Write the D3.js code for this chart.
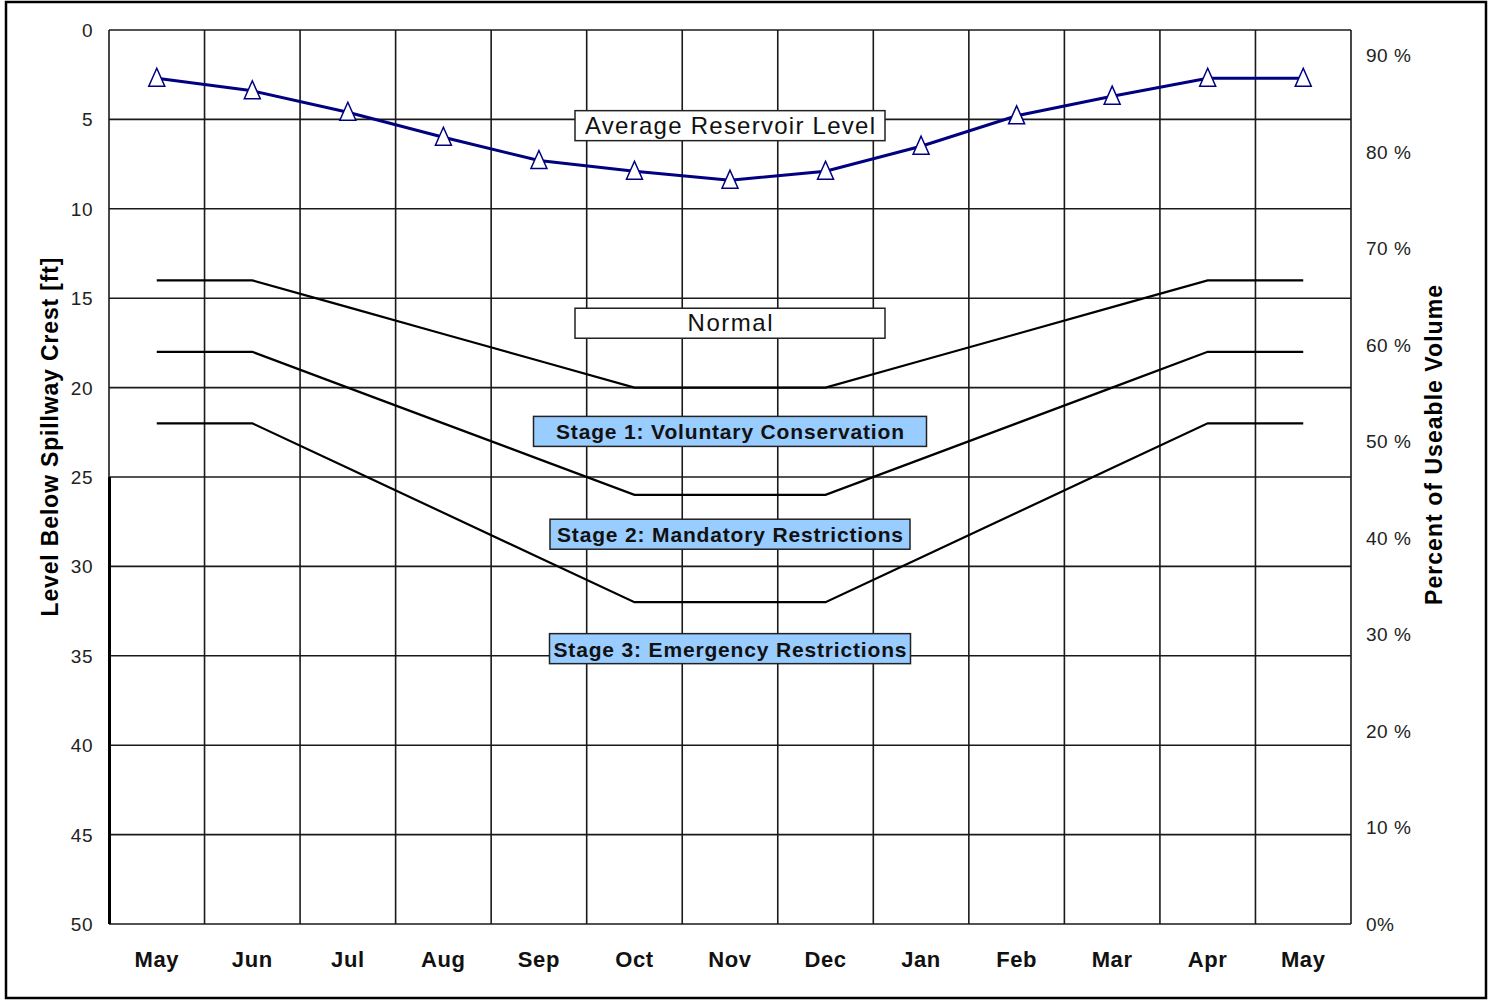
<!DOCTYPE html>
<html>
<head>
<meta charset="utf-8">
<script src="https://cdn.jsdelivr.net/npm/d3@7"></script>
<style>
  body { margin: 0; background: #fff; }
  text { font-family: "Liberation Sans", Arial, sans-serif; }
</style>
</head>
<body>
<svg id="chart" width="1494" height="1000"></svg>
<script>
const svg = d3.select("#chart");

// Data
const months = ["May", "Jun", "Jul", "Aug", "Sep", "Oct", "Nov", "Dec", "Jan", "Feb", "Mar", "Apr", "May"];
const avgLevel = [2.7, 3.4, 4.6, 6.0, 7.3, 7.9, 8.4, 7.9, 6.5, 4.8, 3.7, 2.7, 2.7];
const normalLine = [14, 14, 15.5, 17, 18.5, 20, 20, 20, 18.5, 17, 15.5, 14, 14];
const stage1Line = [18, 18, 20, 22, 24, 26, 26, 26, 24, 22, 20, 18, 18];
const stage2Line = [22, 22, 24.5, 27, 29.5, 32, 32, 32, 29.5, 27, 24.5, 22, 22];
const leftTicks = [0, 5, 10, 15, 20, 25, 30, 35, 40, 45, 50];
const rightTicks = [0, 10, 20, 30, 40, 50, 60, 70, 80, 90];
const labels = [
  { text: "Average Reservoir Level", level: 5.35, w: 310, tw: 290, fill: "#fff", weight: "normal" },
  { text: "Normal", level: 16.4, w: 310, tw: 85, fill: "#fff", weight: "normal" },
  { text: "Stage 1: Voluntary Conservation", level: 22.45, w: 393, tw: 348, fill: "#99ccff", weight: "bold" },
  { text: "Stage 2: Mandatory Restrictions", level: 28.2, w: 360, tw: 346, fill: "#99ccff", weight: "bold" },
  { text: "Stage 3: Emergency Restrictions", level: 34.6, w: 361, tw: 353, fill: "#99ccff", weight: "bold" }
];

const plotL = 109, plotR = 1351, plotT = 30, plotB = 924;

const x = d3.scaleBand().domain(d3.range(months.length)).range([plotL, plotR]).padding(0);
const cx = i => x(i) + x.bandwidth() / 2;
const y = d3.scaleLinear().domain([0, 50]).range([plotT, plotB]);
const yR = d3.scaleLinear().domain([0, 92.6]).range([plotB, plotT]);

// outer frame
svg.append("rect")
  .attr("x", 6).attr("y", 2).attr("width", 1480).attr("height", 996)
  .attr("fill", "none").attr("stroke", "#000").attr("stroke-width", 2.5);

// grid
const grid = svg.append("g").attr("stroke", "#1a1a1a").attr("stroke-width", 1.6);
grid.selectAll(".h").data(leftTicks).enter().append("line")
  .attr("x1", plotL).attr("x2", plotR)
  .attr("y1", d => y(d)).attr("y2", d => y(d));
grid.selectAll(".v").data(d3.range(months.length + 1)).enter().append("line")
  .attr("x1", d => plotL + d * x.bandwidth()).attr("x2", d => plotL + d * x.bandwidth())
  .attr("y1", plotT).attr("y2", plotB);

// thicker axis segment on the lower left
svg.append("line")
  .attr("x1", plotL + 0.5).attr("x2", plotL + 0.5)
  .attr("y1", y(25)).attr("y2", y(50))
  .attr("stroke", "#000").attr("stroke-width", 3);

// left ticks
svg.append("g").selectAll("text").data(leftTicks).enter().append("text")
  .attr("x", 93).attr("y", d => y(d) + 7)
  .attr("text-anchor", "end")
  .attr("font-size", 19).attr("letter-spacing", 0.5).attr("fill", "#222")
  .text(d => d);

// right ticks
svg.append("g").selectAll("text").data(rightTicks).enter().append("text")
  .attr("x", 1366).attr("y", d => yR(d) + 7)
  .attr("font-size", 19).attr("letter-spacing", 0.5).attr("fill", "#222")
  .text(d => d === 0 ? "0%" : d + " %");

// month labels
svg.append("g").selectAll("text").data(months).enter().append("text")
  .attr("x", (d, i) => cx(i)).attr("y", 967)
  .attr("text-anchor", "middle")
  .attr("font-size", 22).attr("font-weight", "bold").attr("letter-spacing", 0.6).attr("fill", "#111")
  .text(d => d);

// axis titles
svg.append("text")
  .attr("transform", "translate(58,437) rotate(-90)")
  .attr("text-anchor", "middle")
  .attr("font-size", 23).attr("font-weight", "bold")
  .attr("textLength", 359).attr("lengthAdjust", "spacing")
  .text("Level Below Spillway Crest [ft]");
svg.append("text")
  .attr("transform", "translate(1442,445) rotate(-90)")
  .attr("text-anchor", "middle")
  .attr("font-size", 23).attr("font-weight", "bold")
  .attr("textLength", 320).attr("lengthAdjust", "spacing")
  .text("Percent of Useable Volume");

// stage lines
const line = d3.line().x((d, i) => cx(i)).y(d => y(d));
[normalLine, stage1Line, stage2Line].forEach(s => {
  svg.append("path").datum(s)
    .attr("d", line)
    .attr("fill", "none").attr("stroke", "#000").attr("stroke-width", 2.2);
});

// average level
svg.append("path").datum(avgLevel)
  .attr("d", line)
  .attr("fill", "none").attr("stroke", "#000080").attr("stroke-width", 3);
svg.append("g").selectAll("path").data(avgLevel).enter().append("path")
  .attr("d", (d, i) => {
    const px = cx(i), py = y(d);
    return `M${px},${py - 10}L${px + 8},${py + 8}L${px - 8},${py + 8}Z`;
  })
  .attr("fill", "#fff").attr("stroke", "#000080").attr("stroke-width", 1.5);

// label boxes
const mid = cx(6);
const lab = svg.append("g").selectAll("g").data(labels).enter().append("g")
  .attr("transform", d => `translate(${mid},${y(d.level)})`);
lab.append("rect")
  .attr("x", d => -d.w / 2).attr("y", -15)
  .attr("width", d => d.w).attr("height", 30)
  .attr("fill", d => d.fill).attr("stroke", "#222").attr("stroke-width", 1.5);
lab.append("text")
  .attr("y", 8).attr("text-anchor", "middle")
  .attr("font-size", d => d.weight === "bold" ? 21 : 24)
  .attr("font-weight", d => d.weight)
  .attr("textLength", d => d.tw).attr("lengthAdjust", "spacing")
  .attr("fill", "#111")
  .text(d => d.text);
</script>
</body>
</html>
